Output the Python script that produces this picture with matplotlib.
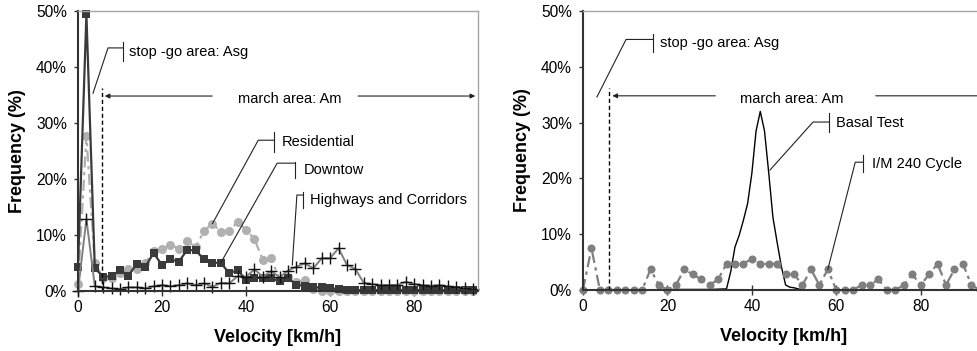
import numpy as np
import matplotlib
matplotlib.use("Agg")
import matplotlib.pyplot as plt
from matplotlib.ticker import FuncFormatter

plt.rcParams['font.family'] = ['Liberation Sans', 'DejaVu Sans']

# velocity classes, every 2 km/h
velocity = np.arange(0, 96, 2)

residential = [1.2, 27.7, 4.9, 2.3, 2.3, 3.1, 3.9, 3.9, 4.9, 7.1, 7.4, 8.2, 7.5, 8.8, 7.8, 10.7,
               12.0, 10.5, 10.7, 12.3, 10.9, 9.2, 5.5, 5.8, 1.9, 2.5, 1.6, 1.9, 0.3, 0.0, 0.0,
               0, 0, 0, 0, 0, 0, 0, 0, 0, 0, 0, 0, 0, 0, 0, 0, 0]
downtown = [4.3, 49.4, 4.0, 2.5, 2.6, 3.7, 2.7, 4.8, 4.3, 6.7, 4.6, 5.6, 5.2, 7.3, 7.2, 5.6,
            5.0, 5.0, 3.1, 3.7, 1.9, 2.3, 2.3, 2.2, 1.7, 2.2, 1.1, 0.8, 0.6, 0.6, 0.4, 0.3, 0.2,
            0.1, 0.1, 0.1, 0.1, 0.1, 0.1, 0.1, 0.1, 0.1, 0.1, 0.1, 0.1, 0.1, 0.1, 0.1]
highways = [0.0, 12.8, 0.8, 0.6, 0.4, 0.3, 0.6, 0.6, 0.4, 0.8, 1.0, 0.8, 1.0, 1.3, 1.0, 1.3,
            0.7, 1.4, 1.3, 2.6, 2.5, 3.8, 2.5, 3.5, 2.4, 3.6, 4.3, 4.9, 4.0, 5.8, 5.8, 7.6,
            4.6, 3.9, 1.4, 1.2, 1.0, 1.0, 1.0, 1.6, 1.2, 1.0, 0.9, 1.0, 0.8, 0.6, 0.4, 0.3]

im240 = [0, 7.5, 0, 0, 0, 0, 0, 0, 3.7, 0.9, 0, 0.9, 3.7, 2.8, 1.9, 0.9,
         1.9, 4.7, 4.7, 4.7, 5.6, 4.7, 4.7, 4.7, 2.8, 2.8, 0.9, 3.7, 0.9, 3.7, 0, 0,
         0, 0.9, 0.9, 1.9, 0, 0, 0.9, 2.8, 0.9, 2.8, 4.7, 0.9, 3.7, 4.7, 0.9, 0]

basal_v = [0, 14, 20, 30, 34, 35, 36, 37, 38, 39, 40, 41, 42, 43, 44, 45, 46, 47, 48, 49, 50, 51, 52, 95]
basal_f = [0, 0, 0.1, 0.1, 0.2, 3.3, 7.7, 9.8, 12.5, 15.5, 20.9, 28.5, 32.0, 28.5, 21.0, 13.0,
           8.5, 4.2, 0.9, 0.5, 0.4, 0.2, 0.0, 0.0]

yticks = [0, 10, 20, 30, 40, 50]
xticks = [0, 20, 40, 60, 80]

fig = plt.figure(figsize=(9.78, 3.51), dpi=100)
ax1 = fig.add_axes([78/978, 60.3/351, 400/978, 279.7/351])
ax2 = fig.add_axes([583/978, 61/351, 401/978, 279/351])


def style(ax, xmax):
    ax.set_xlim(0, xmax)
    ax.set_ylim(0, 50)
    ax.set_xticks(xticks)
    ax.set_yticks(yticks)
    ax.yaxis.set_major_formatter(FuncFormatter(lambda v, p: f"{v:.0f}%"))
    ax.tick_params(axis='x', direction='inout', length=7, width=1, color='#333333',
                   labelsize=11.2, pad=3)
    ax.tick_params(axis='y', direction='out', length=3, width=1, color='#333333',
                   labelsize=11.2, pad=5)
    for s in ['top', 'right']:
        ax.spines[s].set_color('#a6a6a6')
        ax.spines[s].set_linewidth(1)
    for s in ['left', 'bottom']:
        ax.spines[s].set_color('#333333')
        ax.spines[s].set_linewidth(1.5)
    ax.set_xlabel("Velocity [km/h]", fontsize=13, fontweight='bold')
    ax.set_ylabel("Frequency (%)", fontsize=13, fontweight='bold')
    ax.xaxis.set_label_coords(0.5, -0.166)
    ax.xaxis.label.set_va('center')
    ax.yaxis.set_label_coords(-0.15, 0.5)
    ax.yaxis.label.set_va('center')


def callout(ax, tip, elbow, bar_x, bar_y, label, text_x):
    ax.plot([tip[0], elbow[0], bar_x], [tip[1], elbow[1], elbow[1]], color='#222222',
            lw=0.8, clip_on=False)
    ax.plot([bar_x, bar_x], bar_y, color='#222222', lw=0.8, clip_on=False)
    ax.text(text_x, sum(bar_y)/2, label, ha='left', va='center', fontsize=10.5)


def areas(ax, xb, top, arrow_l, arrow_r, text_x, end_x):
    ax.plot([xb, xb], [0, top], color='black', lw=1, dashes=(3, 2))
    ax.annotate('', xy=(xb + 0.1, 34.8), xytext=(arrow_l, 34.8),
                arrowprops=dict(arrowstyle='-|>', color='#222222', lw=0.8, mutation_scale=7))
    ax.annotate('', xy=(end_x, 34.8), xytext=(arrow_r, 34.8), annotation_clip=False,
                arrowprops=dict(arrowstyle='-|>', color='#222222', lw=0.8, mutation_scale=7))
    ax.text(text_x, 34.3, "march area: Am", ha='center', va='center', fontsize=10.5)


# left chart
ax1.plot(velocity, residential, color='#b0b0b0', lw=1.6, dashes=(5, 2, 1.5, 2),
         marker='o', markersize=6.5, markeredgewidth=0, clip_on=False)
ax1.plot(velocity, downtown, color='#3a3a3a', lw=1.6, marker='s', markersize=5.8,
         markeredgewidth=0, clip_on=False)
ax1.plot(velocity, highways, color='#808080', lw=1.4, marker='+', markersize=9,
         markeredgecolor='#111111', markeredgewidth=1, clip_on=False)
style(ax1, 95.2)
areas(ax1, 5.6, 36.2, 32.6, 66.0, 50.4, 95.2)
callout(ax1, (3.57, 35.3), (7.14, 43.4), 10.7, (44.4, 41.1), "stop -go area: Asg", 12.1)
callout(ax1, (32, residential[16]), (42.9, 26.9), 46.7, (28.4, 24.8), "Residential", 48.6)
callout(ax1, (34, downtown[17]), (47.4, 22.8), 51.7, (23.0, 20.1), "Downtow", 53.8)
callout(ax1, (51, highways[26] + 0.3), (52.1, 17.1), 53.6, (17.6, 14.7),
        "Highways and Corridors", 55.2)

# right chart
ax2.plot(basal_v, basal_f, color='black', lw=1)
ax2.plot(velocity, im240, color='#7f7f7f', lw=1.6, dashes=(5, 2, 1.5, 2),
         marker='o', markersize=5.8, markeredgewidth=0, clip_on=False)
style(ax2, 95)
areas(ax2, 6.2, 36.2, 32.0, 68.7, 49.5, 100)
callout(ax2, (3.3, 34.6), (10.2, 44.9), 16.6, (45.9, 42.7), "stop -go area: Asg", 18.2)
callout(ax2, (44.3, 21.5), (54.5, 30.1), 58.3, (31.7, 28.3), "Basal Test", 60.0)
callout(ax2, (58, im240[29]), (64.5, 22.9), 66.4, (24.2, 21.1), "I/M 240 Cycle", 68.5)

fig.savefig("out.png", dpi=100)
